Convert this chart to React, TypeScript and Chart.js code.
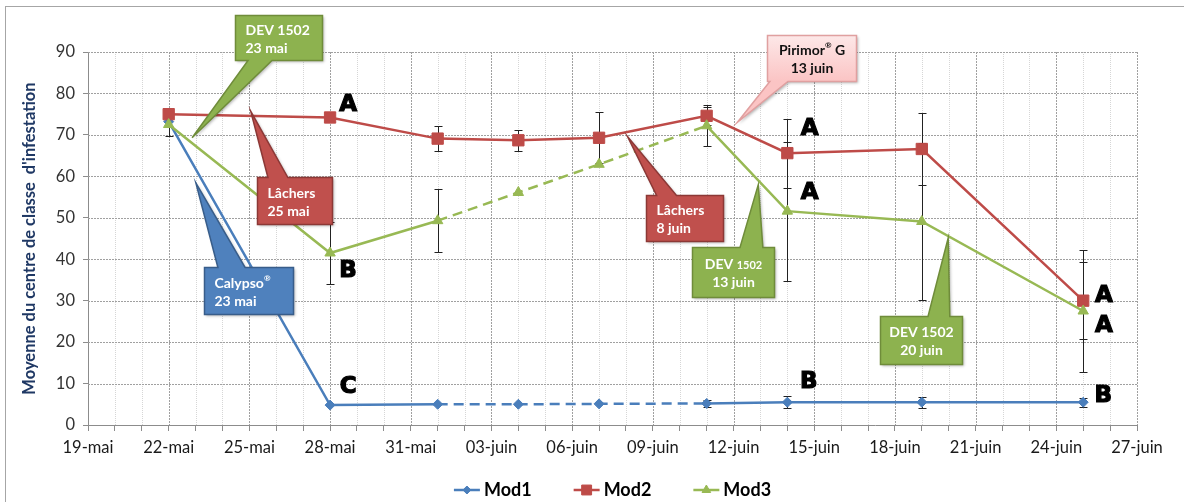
import React, { useEffect, useRef } from 'react';
import { Chart, registerables } from 'chart.js';
import { drawPoint } from 'chart.js/helpers';

Chart.register(...registerables);

// Axis labels, one every three days from 19 May
const axisDates = ['19-mai', '22-mai', '25-mai', '28-mai', '31-mai', '03-juin', '06-juin', '09-juin', '12-juin', '15-juin', '18-juin', '21-juin', '24-juin', '27-juin'];
const axisSpanDays = 39;
const valueMax = 90;
const valueStep = 10;

// Observation dates, in days counted from 19 May
const sampleDays = [3, 9, 13, 16, 19, 23, 26, 31, 37];

const mod1 = [73.2, 4.8, 5.0, 5.0, 5.1, 5.2, 5.5, 5.5, 5.5];
const mod2 = [75.0, 74.2, 69.1, 68.7, 69.3, 74.6, 65.6, 66.6, 30.0];
const mod3 = [72.5, 41.5, 49.3, 56.1, 62.9, 72.2, 51.6, 49.1, 27.5];

// Half-width of the error bars (null = none)
const mod1Err = [null, null, null, null, null, 0.8, 1.5, 1.3, 1.1];
const mod2Err = [null, null, 3.1, 2.5, 6.2, 2.2, 8.3, 8.7, 9.3];
const mod3Err = [2.8, 7.5, 7.6, null, null, 5.0, 16.8, 19.0, 14.8];

// Period drawn with a dashed line
const dashedSpan = [13, 23];

// Statistical group letters
const letterText = ['A', 'B', 'C', 'A', 'A', 'B', 'A', 'A', 'B'];
const letterDay = [9.67, 9.67, 9.67, 26.83, 26.83, 26.8, 37.77, 37.77, 37.75];
const letterValue = [77.4, 37.4, 9.3, 71.6, 56.1, 10.5, 31.4, 24.1, 7.2];

const seriesNames = ['Mod1', 'Mod2', 'Mod3'];
const seriesColors = ['#4a7ebb', '#be4b48', '#98b954'];
const seriesMarkers = ['rectRot', 'rect', 'triangle'];
const seriesRadius = [5, 8, 6];
const seriesValues = [mod1, mod2, mod3];
const seriesErrors = [mod1Err, mod2Err, mod3Err];

type Theme = 'green' | 'red' | 'blue' | 'pink';
const themes: Record<Theme, { fill: string; stroke: string; text: string }> = {
  green: { fill: '#8db24f', stroke: '#6f8c3a', text: '#ffffff' },
  red: { fill: '#c0504d', stroke: '#8c3836', text: '#ffffff' },
  blue: { fill: '#4f81bd', stroke: '#385d8a', text: '#ffffff' },
  pink: { fill: '#fcd5d5', stroke: '#e0a0a0', text: '#111111' },
};

// Treatment callouts, placed in axis units (day, value); {..} = smaller type
const callouts: {
  lines: string[]; theme: Theme; align: 'left' | 'center';
  box: [number, number, number, number]; edge: 'top' | 'bottom';
  base: [number, number]; tip: [number, number];
}[] = [
  { lines: ['DEV 1502', '23 mai'], theme: 'green', align: 'left', box: [5.46, 8.7, 99.0, 88.0], edge: 'bottom', base: [5.95, 6.84], tip: [3.87, 69.3] },
  { lines: ['Lâchers', '25 mai'], theme: 'red', align: 'left', box: [6.27, 9.06, 59.8, 48.5], edge: 'top', base: [6.69, 7.43], tip: [6.05, 75.7] },
  { lines: ['Calypso®', '23 mai'], theme: 'blue', align: 'left', box: [4.32, 7.61, 38.2, 26.7], edge: 'top', base: [4.83, 5.84], tip: [4.01, 58.4] },
  { lines: ['Pirimor® G', '13 juin'], theme: 'pink', align: 'center', box: [25.23, 28.57, 94.2, 82.9], edge: 'bottom', base: [25.35, 26.02], tip: [24.14, 73.0] },
  { lines: ['Lâchers', '8 juin'], theme: 'red', align: 'left', box: [20.74, 23.59, 55.5, 44.3], edge: 'top', base: [21.14, 21.88], tip: [20.06, 69.6] },
  { lines: ['DEV {1502}', '13 juin'], theme: 'green', align: 'center', box: [22.45, 25.5, 43.0, 31.0], edge: 'top', base: [24.24, 25.09], tip: [24.92, 58.0] },
  { lines: ['DEV 1502', '20 juin'], theme: 'green', align: 'center', box: [29.44, 32.48, 26.2, 14.7], edge: 'top', base: [31.23, 32.04], tip: [31.98, 45.1] },
];

const FONT = 'Lato, "Open Sans", sans-serif';

// Draws a label where "®" is superscript and "{...}" is set in a smaller size
function drawRich(ctx: CanvasRenderingContext2D, text: string, x: number, y: number, align: 'left' | 'center', size: number) {
  const segs: { t: string; kind: 'n' | 'sup' | 'small'; w: number }[] = [];
  const re = /(®|\{[^}]*\})/g;
  let last = 0;
  let m: RegExpExecArray | null;
  while ((m = re.exec(text))) {
    if (m.index > last) segs.push({ t: text.slice(last, m.index), kind: 'n', w: 0 });
    if (m[0] === '®') segs.push({ t: '®', kind: 'sup', w: 0 });
    else segs.push({ t: m[0].slice(1, -1), kind: 'small', w: 0 });
    last = m.index + m[0].length;
  }
  if (last < text.length) segs.push({ t: text.slice(last), kind: 'n', w: 0 });
  const fontFor = (k: string) =>
    k === 'sup' ? `bold ${Math.round(size * 0.6)}px ${FONT}` : k === 'small' ? `bold ${Math.round(size * 0.82)}px ${FONT}` : `bold ${size}px ${FONT}`;
  let total = 0;
  segs.forEach((s) => {
    ctx.font = fontFor(s.kind);
    s.w = ctx.measureText(s.t).width;
    total += s.w;
  });
  let cx = align === 'center' ? x - total / 2 : x;
  ctx.textAlign = 'left';
  ctx.textBaseline = 'middle';
  segs.forEach((s) => {
    ctx.font = fontFor(s.kind);
    const dy = s.kind === 'sup' ? -size * 0.35 : s.kind === 'small' ? size * 0.08 : 0;
    ctx.fillText(s.t, cx, y + dy);
    cx += s.w;
  });
}

// Dotted plot grid: daily light lines, darker every third day and every 10 units
const paperGrid = {
  id: 'paperGrid',
  beforeDatasetsDraw(chart: Chart) {
    const { ctx, chartArea } = chart;
    const x = chart.scales.x;
    const y = chart.scales.y;
    ctx.save();
    ctx.lineWidth = 1;
    for (let d = 1; d <= axisSpanDays; d++) {
      const px = Math.round(x.getPixelForValue(d)) + 0.5;
      const major = d % 3 === 0;
      ctx.strokeStyle = major ? '#a0a0a0' : '#d6d6d6';
      ctx.setLineDash(major ? [2, 1] : [1, 1]);
      ctx.beginPath();
      ctx.moveTo(px, chartArea.top);
      ctx.lineTo(px, chartArea.bottom);
      ctx.stroke();
    }
    ctx.strokeStyle = '#a0a0a0';
    ctx.setLineDash([2, 1]);
    for (let v = valueStep; v <= valueMax; v += valueStep) {
      const py = Math.round(y.getPixelForValue(v)) + 0.5;
      ctx.beginPath();
      ctx.moveTo(chartArea.left, py);
      ctx.lineTo(chartArea.right, py);
      ctx.stroke();
    }
    ctx.restore();
  },
};

const errorBars = {
  id: 'errorBars',
  beforeDatasetsDraw(chart: Chart) {
    const { ctx } = chart;
    const x = chart.scales.x;
    const y = chart.scales.y;
    ctx.save();
    ctx.strokeStyle = '#222';
    ctx.lineWidth = 1;
    seriesErrors.forEach((errs, si) => {
      errs.forEach((e, i) => {
        if (e == null) return;
        const v = seriesValues[si][i];
        const px = Math.round(x.getPixelForValue(sampleDays[i])) + 0.5;
        const top = Math.round(y.getPixelForValue(v + e)) + 0.5;
        const bot = Math.round(y.getPixelForValue(v - e)) + 0.5;
        ctx.beginPath();
        ctx.moveTo(px, top);
        ctx.lineTo(px, bot);
        ctx.moveTo(px - 4, top);
        ctx.lineTo(px + 4, top);
        ctx.moveTo(px - 4, bot);
        ctx.lineTo(px + 4, bot);
        ctx.stroke();
      });
    });
    ctx.restore();
  },
};

const annotations = {
  id: 'annotations',
  afterDraw(chart: Chart) {
    const { ctx, chartArea } = chart;
    const x = chart.scales.x;
    const y = chart.scales.y;
    ctx.save();

    // outer frame
    ctx.strokeStyle = '#a6a6a6';
    ctx.lineWidth = 1;
    ctx.strokeRect(5.5, 6.5, chart.width + 20, chart.height + 20);

    // y axis title
    ctx.save();
    ctx.translate(30, (chartArea.top + chartArea.bottom) / 2);
    ctx.rotate(-Math.PI / 2);
    ctx.fillStyle = '#1f3864';
    ctx.font = `bold 16.5px ${FONT}`;
    ctx.textAlign = 'center';
    ctx.textBaseline = 'middle';
    ctx.fillText("Moyenne du centre de classe  d'infestation", 0, 0);
    ctx.restore();

    // group letters
    ctx.fillStyle = '#000';
    ctx.strokeStyle = '#000';
    ctx.lineWidth = 1.2;
    ctx.font = 'bold 23px "DejaVu Sans", sans-serif';
    ctx.textAlign = 'center';
    ctx.textBaseline = 'middle';
    letterText.forEach((t, i) => {
      const px = x.getPixelForValue(letterDay[i]);
      const py = y.getPixelForValue(letterValue[i]) + 1;
      ctx.fillText(t, px, py);
      ctx.strokeText(t, px, py);
    });

    // callouts
    callouts.forEach((c) => {
      const th = themes[c.theme];
      const L = Math.round(x.getPixelForValue(c.box[0])) + 0.5;
      const R = Math.round(x.getPixelForValue(c.box[1])) + 0.5;
      const T = Math.round(y.getPixelForValue(c.box[2])) + 0.5;
      const B = Math.round(y.getPixelForValue(c.box[3])) + 0.5;
      const b0 = x.getPixelForValue(c.base[0]);
      const b1 = x.getPixelForValue(c.base[1]);
      const tx = x.getPixelForValue(c.tip[0]);
      const ty = y.getPixelForValue(c.tip[1]);
      ctx.beginPath();
      if (c.edge === 'top') {
        ctx.moveTo(L, T);
        ctx.lineTo(b0, T);
        ctx.lineTo(tx, ty);
        ctx.lineTo(b1, T);
        ctx.lineTo(R, T);
        ctx.lineTo(R, B);
        ctx.lineTo(L, B);
      } else {
        ctx.moveTo(L, T);
        ctx.lineTo(R, T);
        ctx.lineTo(R, B);
        ctx.lineTo(b1, B);
        ctx.lineTo(tx, ty);
        ctx.lineTo(b0, B);
        ctx.lineTo(L, B);
      }
      ctx.closePath();
      if (c.theme === 'pink') {
        const g = ctx.createLinearGradient(0, T, 0, B);
        g.addColorStop(0, '#fde8e8');
        g.addColorStop(1, '#fbc4c4');
        ctx.fillStyle = g;
      } else {
        ctx.fillStyle = th.fill;
      }
      ctx.save();
      ctx.shadowColor = 'rgba(0,0,0,0.3)';
      ctx.shadowBlur = 3;
      ctx.shadowOffsetX = 1.5;
      ctx.shadowOffsetY = 1.5;
      ctx.fill();
      ctx.restore();
      ctx.strokeStyle = th.stroke;
      ctx.lineWidth = 1.5;
      ctx.stroke();

      ctx.fillStyle = th.text;
      const mid = (T + B) / 2;
      const tx0 = c.align === 'center' ? (L + R) / 2 : L + 10;
      drawRich(ctx, c.lines[0], tx0, mid - 8, c.align, 14);
      drawRich(ctx, c.lines[1], tx0, mid + 10, c.align, 14);
    });

    // legend
    const ly = 490;
    ctx.font = `bold 18px ${FONT}`;
    const widths = seriesNames.map((n) => 26 + 4 + ctx.measureText(n).width);
    const gap = 42;
    const totalW = widths.reduce((a, b) => a + b, 0) + gap * (widths.length - 1);
    let lx = (chartArea.left + chartArea.right) / 2 - totalW / 2;
    seriesNames.forEach((n, i) => {
      ctx.strokeStyle = seriesColors[i];
      ctx.fillStyle = seriesColors[i];
      ctx.lineWidth = 2.5;
      ctx.beginPath();
      ctx.moveTo(lx, ly);
      ctx.lineTo(lx + 26, ly);
      ctx.stroke();
      ctx.lineWidth = 1;
      drawPoint(ctx, { pointStyle: seriesMarkers[i] as any, rotation: 0, radius: seriesRadius[i] - 1, borderWidth: 1 }, lx + 13, ly);
      ctx.fillStyle = '#000';
      ctx.font = `bold 18px ${FONT}`;
      ctx.textAlign = 'left';
      ctx.textBaseline = 'middle';
      ctx.fillText(n, lx + 30, ly);
      lx += widths[i] + gap;
    });

    ctx.restore();
  },
};

const dashedSegment = (c: any) =>
  c.p0.parsed.x >= dashedSpan[0] && c.p1.parsed.x <= dashedSpan[1] ? [10, 6] : undefined;

export default function App() {
  const ref = useRef<HTMLCanvasElement>(null);

  useEffect(() => {
    document.body.style.margin = '0';
    const canvas = ref.current;
    if (!canvas) return;
    Chart.defaults.font.family = FONT;

    const chart = new Chart(canvas, {
      type: 'line',
      data: {
        datasets: seriesNames.map((name, si) => ({
          label: name,
          data: sampleDays.map((d, i) => ({ x: d, y: seriesValues[si][i] })),
          borderColor: seriesColors[si],
          backgroundColor: seriesColors[si],
          pointBorderColor: seriesColors[si],
          pointBackgroundColor: seriesColors[si],
          pointStyle: seriesMarkers[si] as any,
          pointRadius: seriesRadius[si],
          pointBorderWidth: 1,
          borderWidth: 2.5,
          tension: 0,
          order: 2 - si,
          segment: si === 1 ? {} : { borderDash: dashedSegment },
        })),
      },
      options: {
        responsive: false,
        animation: false,
        devicePixelRatio: 1,
        events: [],
        layout: { padding: { left: 0, right: 47, top: 52, bottom: 0 } },
        plugins: { legend: { display: false }, tooltip: { enabled: false } },
        scales: {
          x: {
            type: 'linear',
            min: 0,
            max: axisSpanDays,
            afterFit: (s: any) => { s.height = 77; },
            ticks: {
              stepSize: 1,
              autoSkip: false,
              maxRotation: 0,
              padding: 7,
              color: '#1a1a1a',
              font: { size: 16.5, family: FONT },
              callback: (v: any) => (Number(v) % 3 === 0 ? axisDates[Number(v) / 3] : ''),
            },
            grid: {
              drawOnChartArea: false,
              color: '#8c8c8c',
              lineWidth: 1,
              tickLength: 6,
              tickColor: '#8c8c8c',
            } as any,
            border: { color: '#8c8c8c', width: 1 } as any,
          },
          y: {
            min: 0,
            max: valueMax,
            afterFit: (s: any) => { s.width = 88; },
            ticks: {
              stepSize: valueStep,
              padding: 8,
              color: '#333',
              font: { size: 16.5, family: FONT },
            },
            grid: {
              drawOnChartArea: false,
              color: '#8c8c8c',
              lineWidth: 1,
              tickLength: 5,
              tickColor: '#8c8c8c',
            } as any,
            border: { color: '#8c8c8c', width: 1 } as any,
          },
        },
      },
      plugins: [paperGrid, errorBars, annotations],
    });
    return () => chart.destroy();
  }, []);

  return (
    <div style={{ width: 1184, height: 502, background: '#fff' }}>
      <canvas ref={ref} width={1184} height={502} style={{ display: 'block' }} />
    </div>
  );
}
